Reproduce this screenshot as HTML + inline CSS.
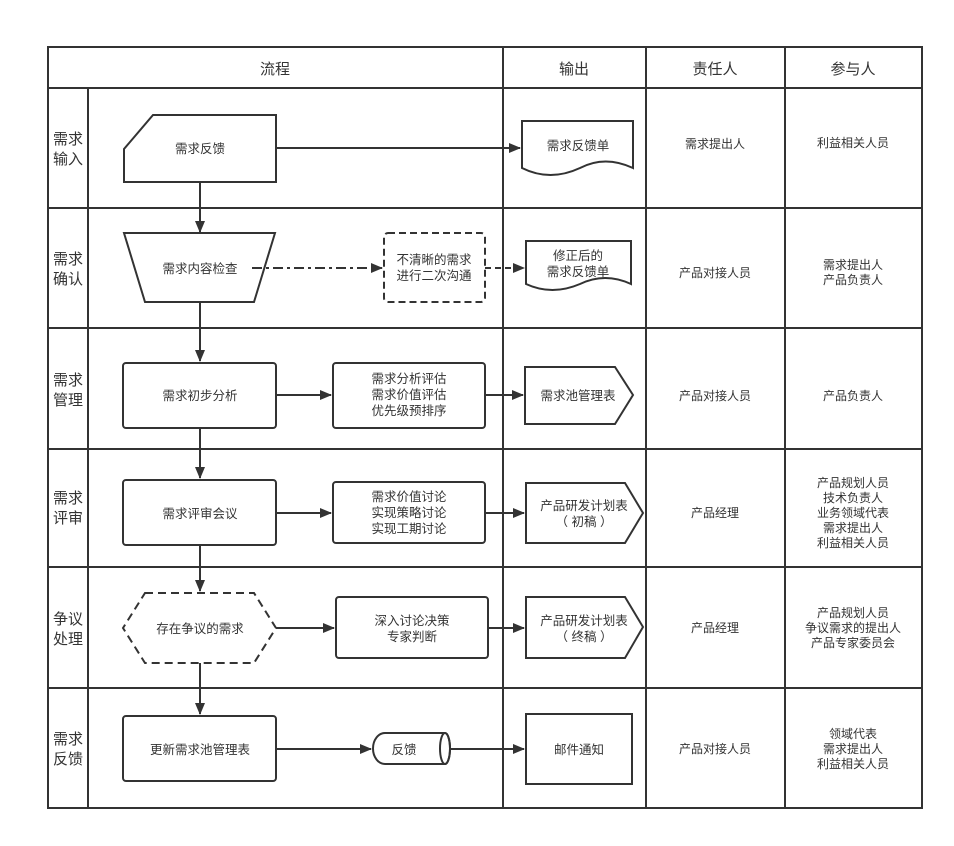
<!DOCTYPE html>
<html><head><meta charset="utf-8"><style>
body{margin:0;background:#fff}
svg text{font-family:"Liberation Sans","Noto Sans CJK SC",sans-serif;fill:#333;text-anchor:middle}
</style></head><body>
<svg width="954" height="841" xmlns="http://www.w3.org/2000/svg">
<defs><marker id="a" markerWidth="12" markerHeight="12" refX="11" refY="6" orient="auto" markerUnits="userSpaceOnUse"><path d="M0,1 L12,6 L0,11 z" fill="#333"/></marker></defs>
<g stroke="#333" stroke-width="2" fill="none">
<rect x="48" y="47" width="874" height="761"/>
<line x1="48" y1="88" x2="922" y2="88"/>
<line x1="48" y1="208" x2="922" y2="208"/>
<line x1="48" y1="328" x2="922" y2="328"/>
<line x1="48" y1="449" x2="922" y2="449"/>
<line x1="48" y1="567" x2="922" y2="567"/>
<line x1="48" y1="688" x2="922" y2="688"/>
<line x1="88" y1="88" x2="88" y2="808"/>
<line x1="503" y1="47" x2="503" y2="808"/>
<line x1="646" y1="47" x2="646" y2="808"/>
<line x1="785" y1="47" x2="785" y2="808"/>
<path d="M124,149 L153,115 L276,115 L276,182 L124,182 Z"/>
<path d="M522,121 L633,121 L633,168 Q605,155 580,168 Q550,182 522,168 Z"/>
<path d="M124,233 L275,233 L254,302 L145,302 Z"/>
<rect x="384" y="233" width="101" height="69" rx="4" stroke-dasharray="7,4"/>
<path d="M526,241 L631,241 L631,284 Q605,272 580,284 Q552,296 526,284 Z"/>
<rect x="123" y="363" width="153" height="65" rx="3"/>
<rect x="333" y="363" width="152" height="65" rx="3"/>
<path d="M525,367 L615,367 L633,395 L615,424 L525,424 Z"/>
<rect x="123" y="480" width="153" height="65" rx="3"/>
<rect x="333" y="482" width="152" height="61" rx="3"/>
<path d="M526,483 L625,483 L643,513 L625,543 L526,543 Z"/>
<path d="M145,593 L254,593 L276,628 L254,663 L145,663 L123,628 Z" stroke-dasharray="8,5"/>
<rect x="336" y="597" width="152" height="61" rx="3"/>
<path d="M526,597 L625,597 L643,627 L625,658 L526,658 Z"/>
<rect x="123" y="716" width="153" height="65" rx="3"/>
<path d="M385,733 L445,733 A5,15.5 0 0 1 445,764 L385,764 A12,15.5 0 0 1 385,733 Z"/>
<ellipse cx="445" cy="748.5" rx="5" ry="15.5"/>
<rect x="526" y="714" width="106" height="70"/>
<line x1="276" y1="148" x2="520" y2="148" marker-end="url(#a)"/>
<line x1="200" y1="182" x2="200" y2="232" marker-end="url(#a)"/>
<line x1="252" y1="268" x2="382" y2="268" stroke-dasharray="10,4,3,4" marker-end="url(#a)"/>
<line x1="485" y1="268" x2="524" y2="268" stroke-dasharray="6,4" marker-end="url(#a)"/>
<line x1="200" y1="302" x2="200" y2="361" marker-end="url(#a)"/>
<line x1="276" y1="395" x2="331" y2="395" marker-end="url(#a)"/>
<line x1="485" y1="395" x2="523" y2="395" marker-end="url(#a)"/>
<line x1="200" y1="428" x2="200" y2="478" marker-end="url(#a)"/>
<line x1="276" y1="513" x2="331" y2="513" marker-end="url(#a)"/>
<line x1="485" y1="513" x2="524" y2="513" marker-end="url(#a)"/>
<line x1="200" y1="545" x2="200" y2="591" marker-end="url(#a)"/>
<line x1="276" y1="628" x2="334" y2="628" marker-end="url(#a)"/>
<line x1="488" y1="628" x2="524" y2="628" marker-end="url(#a)"/>
<line x1="200" y1="663" x2="200" y2="714" marker-end="url(#a)"/>
<line x1="276" y1="749" x2="371" y2="749" marker-end="url(#a)"/>
<line x1="450" y1="749" x2="524" y2="749" marker-end="url(#a)"/>
</g>
<g font-size="15">
<text x="275" y="74">流程</text><text x="574" y="74">输出</text><text x="715" y="74">责任人</text><text x="853" y="74">参与人</text>
<text x="68" y="144">需求</text><text x="68" y="164">输入</text>
<text x="68" y="264">需求</text><text x="68" y="284">确认</text>
<text x="68" y="385">需求</text><text x="68" y="405">管理</text>
<text x="68" y="503">需求</text><text x="68" y="523">评审</text>
<text x="68" y="624">争议</text><text x="68" y="644">处理</text>
<text x="68" y="744">需求</text><text x="68" y="764">反馈</text>
</g>
<g font-size="12.5">
<text x="200" y="153">需求反馈</text>
<text x="578" y="150">需求反馈单</text>
<text x="200" y="273">需求内容检查</text>
<text x="434" y="264">不清晰的需求</text><text x="434" y="280">进行二次沟通</text>
<text x="578" y="260">修正后的</text><text x="578" y="276">需求反馈单</text>
<text x="200" y="400">需求初步分析</text>
<text x="409" y="383">需求分析评估</text><text x="409" y="399">需求价值评估</text><text x="409" y="415">优先级预排序</text>
<text x="578" y="400">需求池管理表</text>
<text x="200" y="518">需求评审会议</text>
<text x="409" y="501">需求价值讨论</text><text x="409" y="517">实现策略讨论</text><text x="409" y="533">实现工期讨论</text>
<text x="584" y="510">产品研发计划表</text><text x="584" y="526">（ 初稿 ）</text>
<text x="200" y="633">存在争议的需求</text>
<text x="412" y="625">深入讨论决策</text><text x="412" y="641">专家判断</text>
<text x="584" y="625">产品研发计划表</text><text x="584" y="641">（ 终稿 ）</text>
<text x="200" y="754">更新需求池管理表</text>
<text x="404" y="754">反馈</text>
<text x="579" y="754">邮件通知</text>
</g>
<g font-size="12">
<text x="715" y="148">需求提出人</text>
<text x="853" y="147">利益相关人员</text>
<text x="715" y="277">产品对接人员</text>
<text x="853" y="269">需求提出人</text><text x="853" y="284">产品负责人</text>
<text x="715" y="400">产品对接人员</text>
<text x="853" y="400">产品负责人</text>
<text x="715" y="517">产品经理</text>
<text x="853" y="487">产品规划人员</text><text x="853" y="502">技术负责人</text><text x="853" y="517">业务领域代表</text><text x="853" y="532">需求提出人</text><text x="853" y="547">利益相关人员</text>
<text x="715" y="632">产品经理</text>
<text x="853" y="617">产品规划人员</text><text x="853" y="632">争议需求的提出人</text><text x="853" y="647">产品专家委员会</text>
<text x="715" y="753">产品对接人员</text>
<text x="853" y="738">领域代表</text><text x="853" y="753">需求提出人</text><text x="853" y="768">利益相关人员</text>
</g>
</svg>
</body></html>
